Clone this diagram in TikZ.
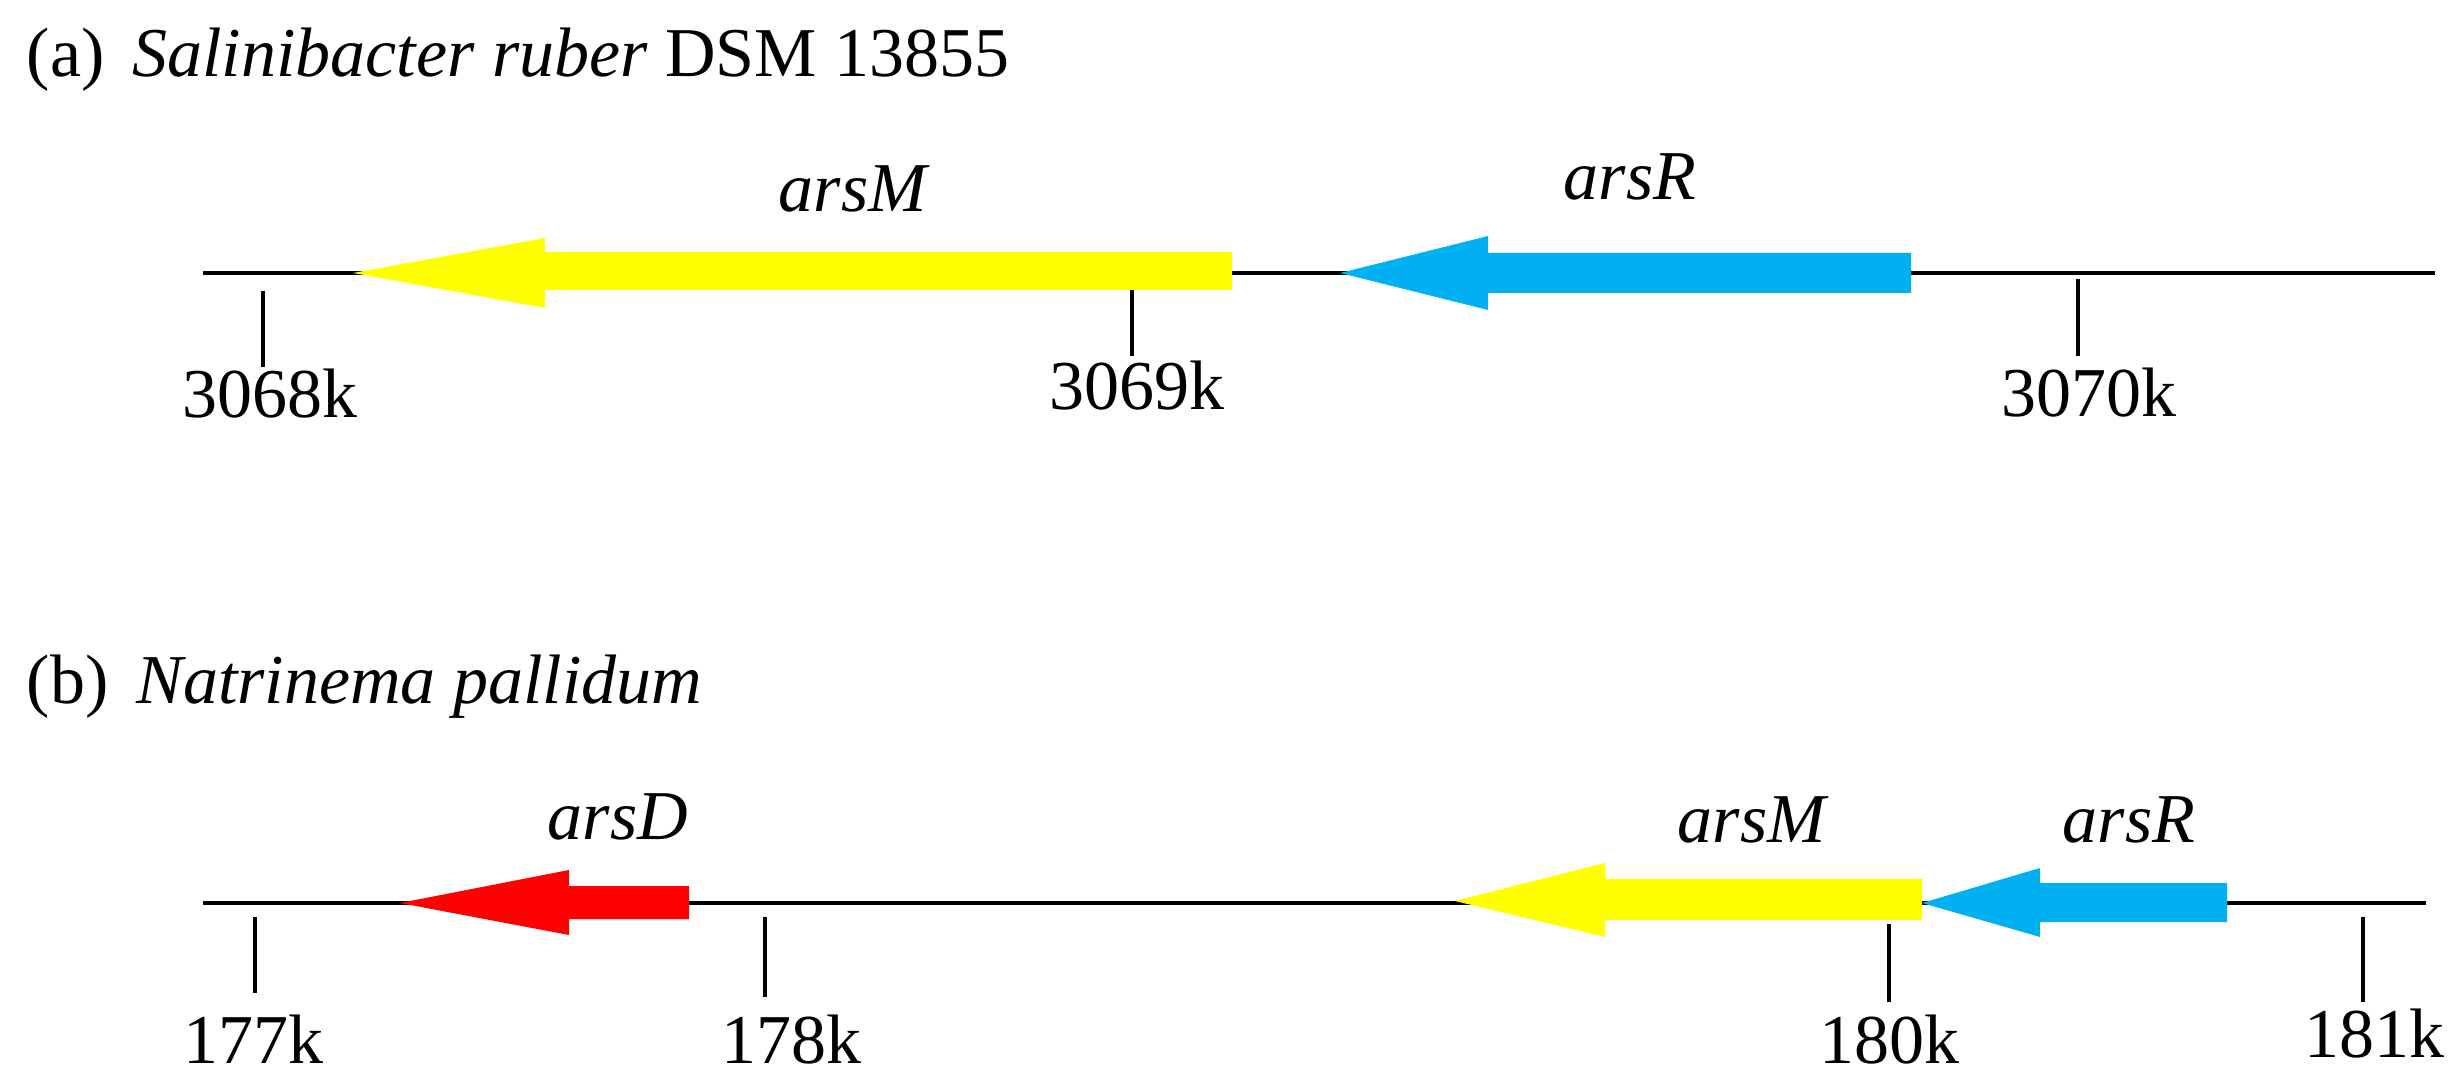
\documentclass[tikz,border=0pt]{standalone}
\usepackage{fontspec}
\setmainfont{Liberation Serif}
\definecolor{genY}{HTML}{FFFF00}
\definecolor{genB}{HTML}{00B0F0}
\definecolor{genR}{HTML}{FF0000}
\begin{document}
\begin{tikzpicture}[x=0.25pt,y=-0.25pt,
  txt/.style={inner sep=0pt,font=\fontsize{17.5}{21}\selectfont},
  ttl/.style={txt,anchor=base west},
  gname/.style={txt,anchor=base west,font=\fontsize{17.5}{21}\selectfont\itshape},
  poslbl/.style={txt,anchor=base},
  axln/.style={line width=1pt,black},
  tk/.style={line width=0.9pt,black}]
\useasboundingbox (0,0) rectangle (2462,1090);

% titles
\node[ttl] (ta) at (26,77) {(a)\hspace{0.4em}\textit{Salinibacter ruber} DSM 13855};
\node[ttl] (tb) at (26,703) {(b)\hspace{0.4em}\textit{Natrinema pallidum}};

% axis lines
\coordinate (a0) at (203,273); \coordinate (a1) at (2435,273);
\coordinate (b0) at (203,903); \coordinate (b1) at (2426,903);
\draw[axln] (a0) -- (a1);
\draw[axln] (b0) -- (b1);

% ticks (a)
\coordinate (t1s) at (263,291);  \coordinate (t1e) at (263,367);
\coordinate (t2s) at (1132,283); \coordinate (t2e) at (1132,356);
\coordinate (t3s) at (2078,279); \coordinate (t3e) at (2078,356);
\draw[tk] (t1s) -- (t1e);
\draw[tk] (t2s) -- (t2e);
\draw[tk] (t3s) -- (t3e);
\node[poslbl] (l1) at (270,418) {3068k};
\node[poslbl] (l2) at (1137,410) {3069k};
\node[poslbl] (l3) at (2089,417) {3070k};

% ticks (b)
\coordinate (u1s) at (255,917);  \coordinate (u1e) at (255,993);
\coordinate (u2s) at (765,917);  \coordinate (u2e) at (765,997);
\coordinate (u3s) at (1889,924); \coordinate (u3e) at (1889,1002);
\coordinate (u4s) at (2363,917); \coordinate (u4e) at (2363,1002);
\draw[tk] (u1s) -- (u1e);
\draw[tk] (u2s) -- (u2e);
\draw[tk] (u3s) -- (u3e);
\draw[tk] (u4s) -- (u4e);
\node[poslbl] (m1) at (253,1063) {177k};
\node[poslbl] (m2) at (791,1063) {178k};
\node[poslbl] (m3) at (1889,1063) {180k};
\node[poslbl] (m4) at (2374,1057) {181k};

% genes (a)
\fill[genY] (353,273) -- (545,238) -- (545,252) -- (1232,252) -- (1232,290) -- (545,290) -- (545,308) -- cycle;
\fill[genB] (1340,273) -- (1488,236) -- (1488,253) -- (1911,253) -- (1911,293) -- (1488,293) -- (1488,310) -- cycle;
\node[gname] (ga1) at (778,212) {arsM};
\node[gname] (ga2) at (1563,200) {arsR};

% genes (b)
\fill[genR] (400,903) -- (569,870) -- (569,886) -- (689,886) -- (689,919) -- (569,919) -- (569,935) -- cycle;
\fill[genY] (1455,901) -- (1605,863) -- (1605,879) -- (1922,879) -- (1922,920) -- (1605,920) -- (1605,937) -- cycle;
\fill[genB] (1922,903) -- (2040,868) -- (2040,883) -- (2227,883) -- (2227,922) -- (2040,922) -- (2040,937) -- cycle;
\node[gname] (gb1) at (547,839) {arsD};
\node[gname] (gb2) at (1677,842) {arsM};
\node[gname] (gb3) at (2062,842) {arsR};
\end{tikzpicture}
\end{document}
